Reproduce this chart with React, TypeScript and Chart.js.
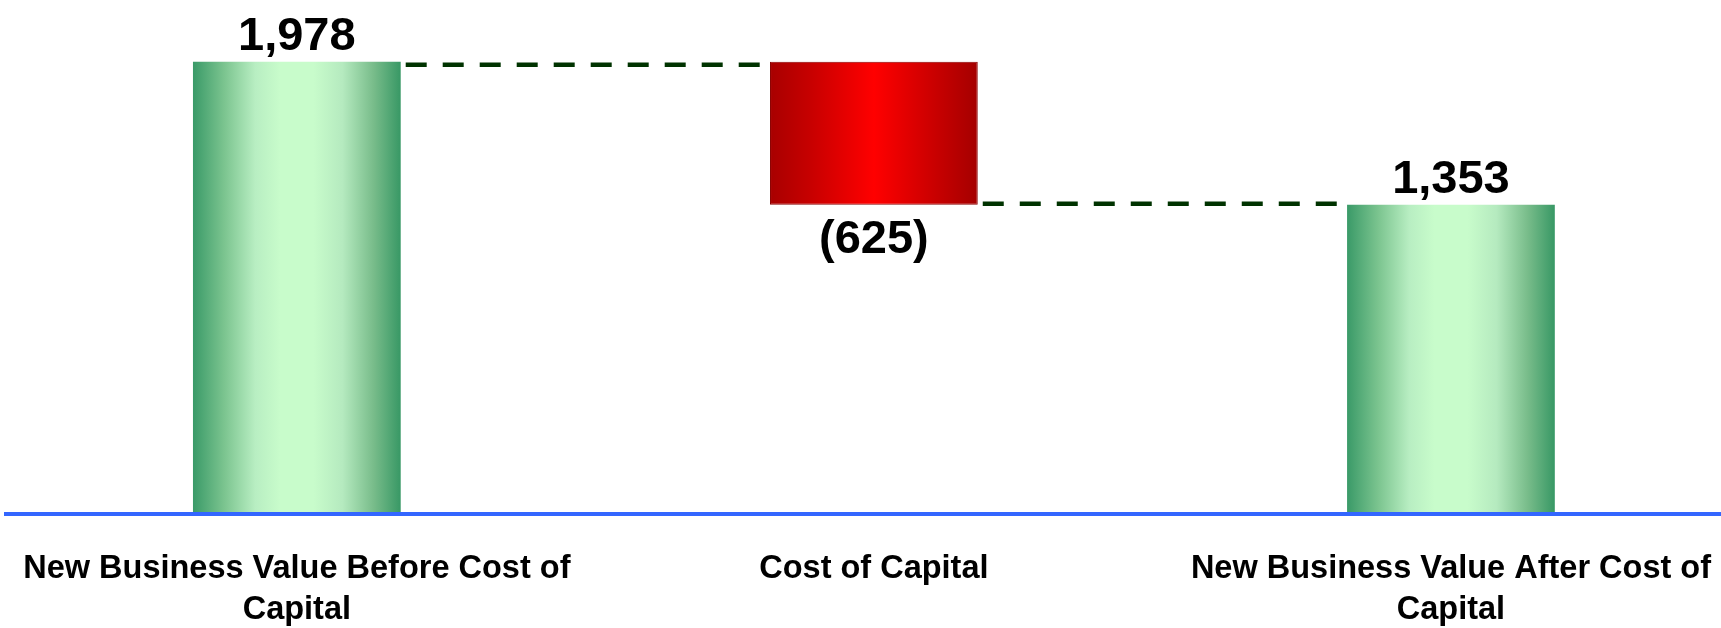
import React, { useEffect, useRef } from 'react';
import { Chart, registerables } from 'chart.js';

Chart.register(...registerables);

// ---- data ----
const categories: string[][] = [
  ['New Business Value Before Cost of', 'Capital'],
  ['Cost of Capital'],
  ['New Business Value After Cost of', 'Capital'],
];
const changes: number[] = [1978, -625, 1353];
const isTotal: boolean[] = [true, false, true];
const valueLabels: string[] = ['1,978', '(625)', '1,353'];

const FONT = '"Liberation Sans", Arial, Helvetica, sans-serif';

const greenStops: [number, string][] = [
  [0, '#3A9A68'],
  [0.15, '#7BC48F'],
  [0.3, '#B8EEC2'],
  [0.42, '#C8FCCB'],
  [0.58, '#C8FCCB'],
  [0.72, '#B5EABF'],
  [0.87, '#78BC8A'],
  [1, '#389865'],
];
const redStops: [number, string][] = [
  [0, '#A80000'],
  [0.2, '#C80000'],
  [0.5, '#FF0000'],
  [0.8, '#C80000'],
  [1, '#A40000'],
];

function buildRanges(): [number, number][] {
  let running = 0;
  return changes.map((v, i) => {
    if (isTotal[i]) {
      running = v;
      return [0, v] as [number, number];
    }
    const start = running;
    running = running + v;
    return [Math.min(start, running), Math.max(start, running)] as [number, number];
  });
}

const waterfallPlugin = {
  id: 'waterfallDecor',
  beforeDatasetsDraw(chart: any) {
    const ctx = chart.ctx as CanvasRenderingContext2D;
    const meta = chart.getDatasetMeta(0);
    const yScale = chart.scales.y;
    const ranges = buildRanges();
    meta.data.forEach((el: any, i: number) => {
      const p = el.getProps(['x', 'width'], true);
      const g = ctx.createLinearGradient(p.x - p.width / 2, 0, p.x + p.width / 2, 0);
      const stops = changes[i] >= 0 ? greenStops : redStops;
      stops.forEach(([o, c]) => g.addColorStop(o, c));
      el.options.backgroundColor = g;
    });
    // dashed connectors
    ctx.save();
    ctx.strokeStyle = '#003300';
    ctx.lineWidth = 4.5;
    ctx.setLineDash([21, 16]);
    for (let i = 0; i < meta.data.length - 1; i++) {
      const a = meta.data[i].getProps(['x', 'width'], true);
      const b = meta.data[i + 1].getProps(['x', 'width'], true);
      const level = changes[i] >= 0 ? ranges[i][1] : ranges[i][0];
      const y = yScale.getPixelForValue(level) + (changes[i] >= 0 ? 3 : -1);
      ctx.beginPath();
      ctx.moveTo(a.x + a.width / 2 + 5, y);
      ctx.lineTo(b.x - b.width / 2, y);
      ctx.stroke();
    }
    ctx.restore();
  },
  afterDatasetsDraw(chart: any) {
    const ctx = chart.ctx as CanvasRenderingContext2D;
    const meta = chart.getDatasetMeta(0);
    ctx.save();
    ctx.font = `bold 47px ${FONT}`;
    ctx.fillStyle = '#000000';
    ctx.textAlign = 'center';
    ctx.textBaseline = 'alphabetic';
    meta.data.forEach((el: any, i: number) => {
      const p = el.getProps(['x', 'y', 'base'], true);
      const top = Math.min(p.y, p.base);
      const bottom = Math.max(p.y, p.base);
      if (changes[i] >= 0) {
        ctx.fillText(valueLabels[i], p.x, top - 12);
      } else {
        ctx.fillText(valueLabels[i], p.x, bottom + 48);
      }
    });
    ctx.restore();
  },
};

export default function App() {
  const canvasRef = useRef<HTMLCanvasElement | null>(null);

  useEffect(() => {
    if (!canvasRef.current) return;
    const ranges = buildRanges();
    const chart = new Chart(canvasRef.current, {
      type: 'bar',
      data: {
        datasets: [
          {
            data: ranges.map((r, i) => ({ x: i, y: r })) as any,
            backgroundColor: (c: any) => (changes[c.dataIndex] >= 0 ? '#9EDDAA' : '#E00000'),
            borderColor: (c: any) => (changes[c.dataIndex] >= 0 ? 'rgba(0,0,0,0)' : '#8B0000'),
            borderWidth: (c: any) => (changes[c.dataIndex] >= 0 ? 0 : 1),
            borderSkipped: false,
            barPercentage: 0.36,
            categoryPercentage: 1,
          },
        ],
      },
      options: {
        responsive: false,
        animation: false,
        layout: { padding: { top: 11, left: 6, right: 0, bottom: 0 } },
        plugins: {
          legend: { display: false },
          tooltip: { enabled: false },
          title: { display: false },
        },
        scales: {
          x: {
            type: 'linear',
            offset: false,
            min: -0.504,
            max: 2.468,
            afterBuildTicks: (s: any) => {
              s.ticks = categories.map((_, i) => ({ value: i }));
            },
            afterFit: (s: any) => {
              s.height = 114;
              s.paddingLeft = 0;
              s.paddingRight = 0;
            },
            grid: { display: false, drawTicks: false, offset: false },
            border: { display: true, color: '#3366FF', width: 4, z: 1 },
            ticks: {
              autoSkip: false,
              maxRotation: 0,
              minRotation: 0,
              padding: 35,
              color: '#000000',
              font: { family: FONT, size: 32.5, weight: 'bold', lineHeight: 1.26 },
              callback: (v: any) => categories[Math.round(Number(v))] ?? '',
            },
          },
          y: {
            display: false,
            min: 0,
            max: 2200,
          },
        },
      },
      plugins: [waterfallPlugin],
    } as any);
    return () => chart.destroy();
  }, []);

  return (
    <div style={{ position: 'fixed', left: 0, top: 0, width: 1721, height: 628, background: '#ffffff' }}>
      <canvas ref={canvasRef} width={1721} height={628} style={{ display: 'block' }} />
    </div>
  );
}
